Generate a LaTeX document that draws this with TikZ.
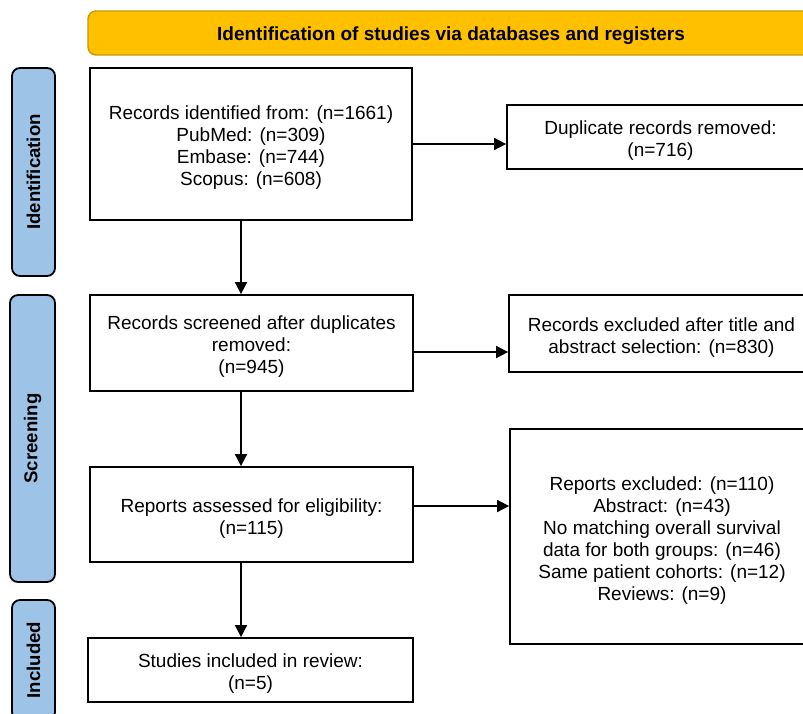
\documentclass[tikz,border=0pt]{standalone}
\usepackage{fontspec}
\setmainfont{Liberation Sans}
\usetikzlibrary{arrows.meta}
\definecolor{hdrfill}{HTML}{FFC000}
\definecolor{hdrline}{HTML}{C49A00}
\definecolor{barfill}{HTML}{9DC3E6}
\begin{document}
\begin{tikzpicture}[x=1pt,y=-1pt,
  box/.style={draw=black,line width=1.8pt,fill=white,inner sep=0pt},
  txt/.style={align=center,inner sep=0pt,font=\fontsize{19}{22}\selectfont},
  bar/.style={draw=black,line width=1.8pt,fill=barfill,rounded corners=8pt,inner sep=0pt},
  bartext/.style={rotate=90,font=\fontsize{18.6}{20}\selectfont\bfseries},
  arr/.style={line width=1.8pt,-{Triangle[length=12pt,width=12pt]}}]
\useasboundingbox (0,0) rectangle (803,713);
\clip (0,0) rectangle (803,713);
% header
\node[draw=hdrline,line width=1.4pt,fill=hdrfill,rounded corners=8pt,
  minimum width=726pt,minimum height=44pt,inner sep=0pt] (hdr) at (451,33) {};
\node[font=\fontsize{19}{20}\selectfont\bfseries,inner sep=0pt] (thdr) at ([yshift=-3pt]hdr.center)
  {Identification of studies via databases and registers};
% side bars
\node[bar,minimum width=43pt,minimum height=208pt] (bid) at (33.5,172) {};
\node[bartext] (tid) at (bid.center) {Identification};
\node[bar,minimum width=45pt,minimum height=287pt] (bsc) at (32.5,438.5) {};
\node[bartext] (tsc) at (bsc.center) {Screening};
\node[bar,minimum width=43pt,minimum height=120pt] (bin) at (33.5,660) {};
\node[bartext] (tin) at (bin.center) {Included};
% main boxes
\node[box,minimum width=322pt,minimum height=152pt] (b1) at (251,144) {};
\node[txt] (t1) at ([yshift=-4pt]b1.center)
  {Records identified from: (n=1661)\\PubMed: (n=309)\\Embase: (n=744)\\Scopus: (n=608)};
\node[box,minimum width=323pt,minimum height=96pt] (b2) at (251.5,343) {};
\node[txt] (t2) at ([yshift=-4pt]b2.center)
  {Records screened after duplicates\\removed:\\(n=945)};
\node[box,minimum width=323pt,minimum height=95pt] (b3) at (251.5,514.5) {};
\node[txt] (t3) at ([yshift=-4pt]b3.center)
  {Reports assessed for eligibility:\\(n=115)};
\node[box,minimum width=325pt,minimum height=64pt] (b4) at (250.5,670) {};
\node[txt] (t4) at ([yshift=-4pt]b4.center)
  {Studies included in review:\\(n=5)};
% right boxes
\node[box,minimum width=307pt,minimum height=64pt] (r1) at (660.5,137) {};
\node[txt] (s1) at ([yshift=-4pt]r1.center)
  {Duplicate records removed:\\(n=716)};
\node[box,minimum width=305pt,minimum height=77pt] (r2) at (661.5,333.5) {};
\node[txt] (s2) at ([yshift=-4pt]r2.center)
  {Records excluded after title and\\abstract selection: (n=830)};
\node[box,minimum width=304pt,minimum height=215pt] (r3) at (662,536.5) {};
\node[txt] (s3) at ([yshift=-4pt]r3.center)
  {Reports excluded: (n=110)\\Abstract: (n=43)\\No matching overall survival\\data for both groups: (n=46)\\Same patient cohorts: (n=12)\\Reviews: (n=9)};
% connector guides
\coordinate (ax) at (241,0);
\coordinate (h1) at (0,144);
\coordinate (h2) at (0,352);
\coordinate (h3) at (0,506);
% arrows
\draw[arr] (b1.south -| ax) -- (b2.north -| ax);
\draw[arr] (b2.south -| ax) -- (b3.north -| ax);
\draw[arr] (b3.south -| ax) -- (b4.north -| ax);
\draw[arr] (b1.east |- h1) -- (r1.west |- h1);
\draw[arr] (b2.east |- h2) -- (r2.west |- h2);
\draw[arr] (b3.east |- h3) -- (r3.west |- h3);
\end{tikzpicture}
\end{document}
